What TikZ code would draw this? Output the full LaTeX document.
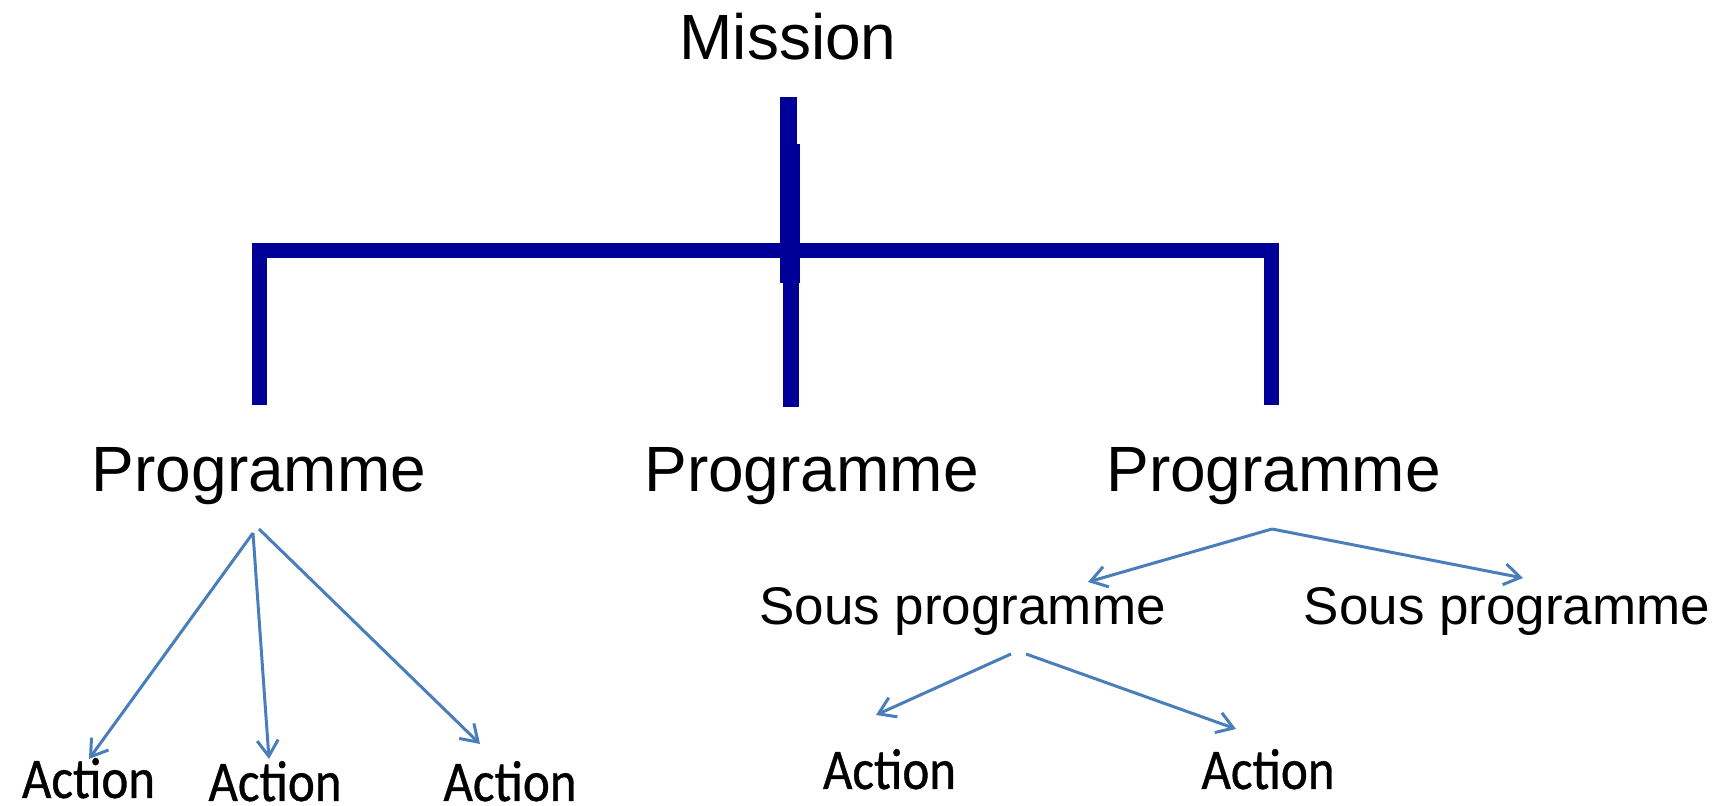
\documentclass[tikz,border=0pt]{standalone}
\usepackage{fontspec}
\usepackage{graphicx}
\setmainfont{Liberation Sans}
\newfontfamily\actfont[FakeBold=0.7]{Carlito}
\usetikzlibrary{arrows.meta}
\definecolor{barblue}{RGB}{0,0,153}
\definecolor{arrblue}{RGB}{74,126,187}
\tikzset{
  big/.style={inner sep=0pt, anchor=base, font=\fontsize{32}{38}\selectfont},
  mid/.style={inner sep=0pt, anchor=base, font=\fontsize{26.5}{32}\selectfont},
  act/.style={inner sep=0pt, anchor=base, text depth=0pt, font=\actfont\fontsize{25.5}{31}\selectfont},
  bar/.style={draw=none, fill=barblue},
  barline/.style={draw=barblue, line width=7.5pt, line cap=butt, line join=miter},
  arr/.style={draw=arrblue, line width=1.5pt, -{Straight Barb[length=8pt,width=10.5pt,line width=1.5pt]}}
}
\begin{document}
\begin{tikzpicture}[x=0.5pt,y=-0.5pt]
\useasboundingbox (0,0) rectangle (1726,806);
% texts
\node[big] (mission) at (788,60) {Mission};
\node[big] (prog1) at (259,492) {Programme};
\node[big] (prog2) at (811.5,492) {Programme};
\node[big] (prog3) at (1273.5,492) {Programme};
\node[mid] (sous1) at (962.5,625) {Sous programme};
\node[mid] (sous2) at (1507,625) {Sous programme};
\node[act] (act1) at (88.5,798) {\scalebox{1}[1.13]{Action}};
\node[act] (act2) at (275,801) {\scalebox{1}[1.13]{Action}};
\node[act] (act3) at (510,801) {\scalebox{1}[1.13]{Action}};
\node[act] (act4) at (889.5,789) {\scalebox{1}[1.13]{Action}};
\node[act] (act5) at (1268,789) {\scalebox{1}[1.13]{Action}};
% thick bracket
\coordinate (bl) at (259,405);
\coordinate (bltop) at (259,251);
\coordinate (brtop) at (1271,251);
\coordinate (br) at (1271,405);
\draw[barline] (bl) -- (bltop) -- (brtop) -- (br);
\fill[barblue] (780,97) rectangle (797,144);
\fill[barblue] (780,144) rectangle (800,283);
\fill[barblue] (783,267) rectangle (799,407);
% arrow end points
\coordinate (p1a) at (253,533);
\coordinate (p1b) at (259,529);
\coordinate (t1) at (89,759);
\coordinate (t2) at (269,759);
\coordinate (t3) at (480,744);
\coordinate (p3) at (1272,529);
\coordinate (ts1) at (1088,582);
\coordinate (ts2) at (1523,578);
\coordinate (s1a) at (1011,654);
\coordinate (s1b) at (1026,654);
\coordinate (t4) at (876,715);
\coordinate (t5) at (1236,729);
\draw[arr] (p1a) -- (t1);
\draw[arr] (p1a) -- (t2);
\draw[arr] (p1b) -- (t3);
\draw[arr] (p3) -- (ts1);
\draw[arr] (p3) -- (ts2);
\draw[arr] (s1a) -- (t4);
\draw[arr] (s1b) -- (t5);
\end{tikzpicture}
\end{document}
